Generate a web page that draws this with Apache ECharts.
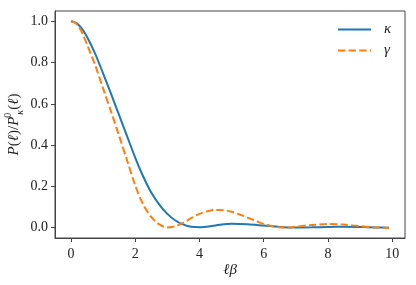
<!DOCTYPE html>
<html>
<head>
<meta charset="utf-8">
<script src="https://cdn.jsdelivr.net/npm/echarts@6/dist/echarts.min.js"></script>
<style>html,body{margin:0;padding:0;background:#fff}#c{width:416px;height:285px}</style>
</head>
<body>
<div id="c"></div>
<script>
// x samples (ℓβ)
const xKappa = [0,0.125,0.25,0.375,0.5,0.75,1.0,1.25,1.5,1.75,2.0,2.25,2.5,2.75,3.0,3.25,3.5,3.75,4.0,4.5,5.0,5.5,6.0,6.5,7.0,7.5,8.0,8.5,9.0,9.5,9.9];
const yKappa = [1.0,0.995,0.981,0.957,0.925,0.845,0.748,0.648,0.545,0.442,0.340,0.248,0.170,0.112,0.067,0.035,0.015,0.004,0.002,0.011,0.019,0.017,0.010,0.003,0.0005,0.0015,0.0035,0.0042,0.003,0.0012,0.0002];
const xGamma = [0,0.125,0.25,0.375,0.5,0.75,1.0,1.25,1.5,1.75,2.0,2.25,2.5,2.75,3.0,3.25,3.5,3.75,4.0,4.25,4.5,4.75,5.0,5.25,5.5,5.75,6.0,6.25,6.5,6.75,7.0,7.5,8.0,8.5,9.0,9.5,9.9];
const yGamma = [1.0,0.993,0.972,0.936,0.888,0.79,0.675,0.562,0.445,0.325,0.205,0.112,0.052,0.016,0.001,0.007,0.024,0.047,0.067,0.080,0.086,0.085,0.077,0.064,0.049,0.033,0.018,0.008,0.002,0.001,0.005,0.013,0.018,0.015,0.007,0.001,0.0];
const xTicks = [0,2,4,6,8,10];
const yTicks = [0.0,0.2,0.4,0.6,0.8,1.0];
const seriesNames = ['κ','γ'];
const colors = ['#1f77b4','#ff7f0e'];

const FONT = 'Liberation Serif';
const TXT = '#222';
const AX = '#444';

const chart = echarts.init(document.getElementById('c'), null, {renderer:'canvas'});
chart.setOption({
  animation:false,
  backgroundColor:'#fff',
  grid:{left:55, top:11, right:11, bottom:47, outerBoundsMode:'none', containLabel:false,
        show:true, borderColor:AX, borderWidth:1, backgroundColor:'transparent'},
  legend:{
    orient:'vertical', left:337, top:22, padding:0, itemWidth:33, itemHeight:16, itemGap:6,
    data:seriesNames,
    itemStyle:{opacity:0},
    textStyle:{fontFamily:FONT, fontStyle:'italic', fontSize:15, color:TXT, padding:[0,0,0,8]}
  },
  xAxis:{
    type:'value', min:-0.495, max:10.395,
    name:'ℓβ', nameLocation:'middle', nameGap:25, nameMoveOverlap:false,
    nameTextStyle:{fontFamily:FONT, fontStyle:'italic', fontSize:15, color:TXT},
    axisLine:{show:true, onZero:false, lineStyle:{color:AX, width:1}},
    axisTick:{show:true, inside:false, length:4, lineStyle:{color:AX, width:1}, customValues:xTicks},
    axisLabel:{fontFamily:FONT, fontSize:14, color:TXT, margin:9, customValues:xTicks, formatter:v=>String(v)},
    splitLine:{show:false}
  },
  yAxis:{
    type:'value', min:-0.05, max:1.05,
    name:'{i|P}{n|(}{i|ℓ}{n|)/}{i|P}{sup|0}{sub|κ}{n|(}{i|ℓ}{n|)}',
    nameLocation:'middle', nameRotate:90, nameGap:30, nameMoveOverlap:false,
    nameTextStyle:{
      fontFamily:FONT, fontSize:15, color:TXT,
      rich:{
        i:{fontFamily:FONT, fontStyle:'italic', fontSize:15, color:TXT, lineHeight:22, verticalAlign:'middle'},
        n:{fontFamily:FONT, fontSize:15, color:TXT, lineHeight:22, verticalAlign:'middle'},
        sup:{fontFamily:FONT, fontSize:10, color:TXT, lineHeight:22, verticalAlign:'top', width:1, padding:[0,0,0,1]},
        sub:{fontFamily:FONT, fontStyle:'italic', fontSize:10, color:TXT, lineHeight:22, verticalAlign:'bottom'}
      }
    },
    axisLine:{show:true, onZero:false, lineStyle:{color:AX, width:1}},
    axisTick:{show:true, inside:false, length:4, lineStyle:{color:AX, width:1}, customValues:yTicks},
    axisLabel:{fontFamily:FONT, fontSize:14, color:TXT, margin:7, customValues:yTicks, formatter:v=>v.toFixed(1)},
    splitLine:{show:false}
  },
  series:[
    {name:seriesNames[0], type:'line', symbol:'none', smooth:0.3, color:colors[0],
     lineStyle:{width:2, color:colors[0]},
     data:xKappa.map((x,i)=>[x,yKappa[i]])},
    {name:seriesNames[1], type:'line', symbol:'none', smooth:0.3, color:colors[1],
     lineStyle:{width:2, color:colors[1], type:[7.4,3.2]},
     data:xGamma.map((x,i)=>[x,yGamma[i]])}
  ]
});
</script>
</body>
</html>
